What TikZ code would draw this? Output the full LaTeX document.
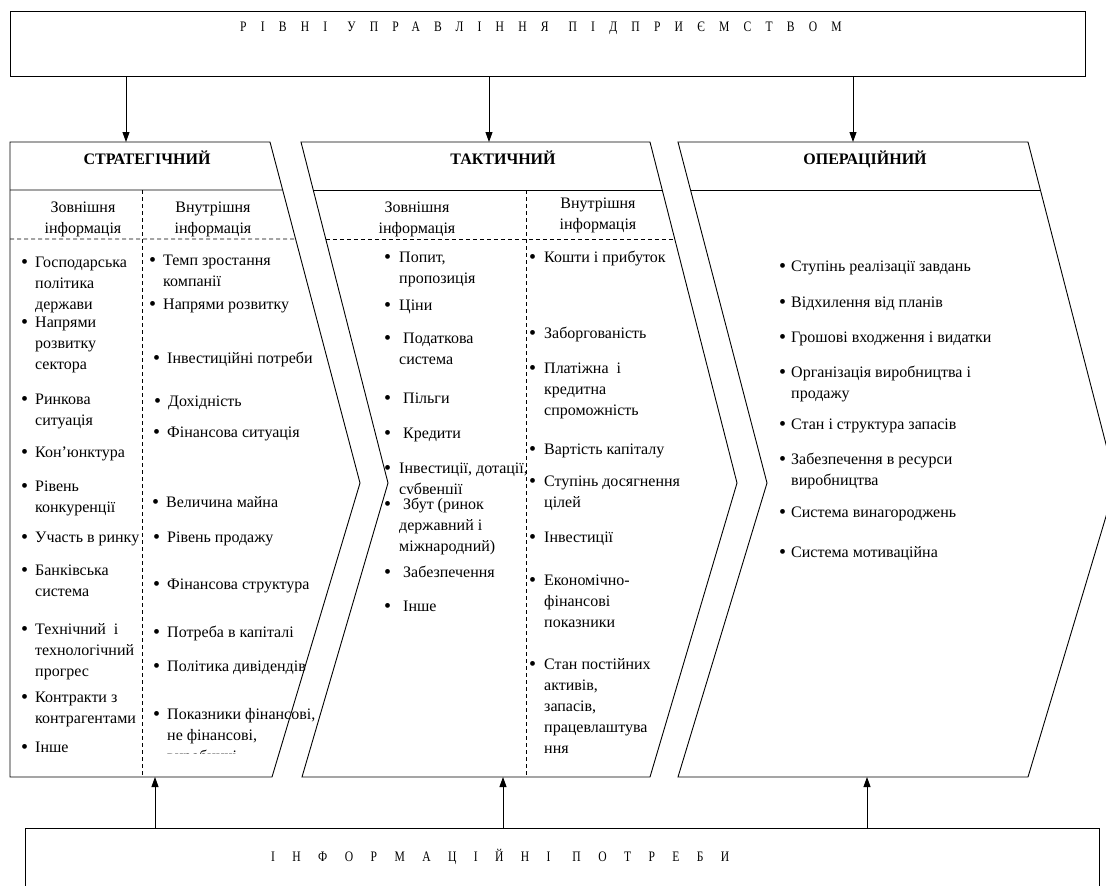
\documentclass[tikz,border=0pt]{standalone}
\usepackage{fontspec}
\setmainfont{Liberation Serif}
\usetikzlibrary{arrows.meta,calc}
\newcommand\bl[2][7]{\llap{\raisebox{-1.4pt}{\scalebox{1.25}{\textbullet}}\hspace{#1pt}}\begin{tabular}[t]{@{}l@{}}#2\end{tabular}}
\newcommand\sh[1]{\begin{tabular}[t]{@{}c@{}}#1\end{tabular}}
\tikzset{
  box/.style={draw, line width=1pt, inner sep=0pt, outer sep=0pt},
  chev/.style={draw, line width=0.9pt, line join=miter},
  hline/.style={line width=0.9pt},
  sep/.style={line width=0.7pt, dash pattern=on 4pt off 3pt},
  arr/.style={line width=0.9pt, -{Triangle[length=10pt,width=7pt]}},
  itm/.style={anchor=base west, inner sep=0pt, font=\fontsize{16}{21}\selectfont},
  hd/.style={anchor=base, inner sep=0pt, font=\bfseries\fontsize{16}{21}\selectfont},
  sub/.style={anchor=base, inner sep=0pt, font=\fontsize{16}{21}\selectfont},
  ttl/.style={anchor=west, inner sep=0pt, font=\fontsize{14.5}{16}\selectfont}
}
\begin{document}
\begin{tikzpicture}[x=1pt,y=-1pt]
\useasboundingbox (0,0) rectangle (1106,886);
\clip (0,0) rectangle (1106,886);
% top and bottom boxes
\node[box, minimum width=1075pt, minimum height=65pt, anchor=north west] (top) at (10,11) {};
\node[ttl] (toptxt) at (240,28) {\addfontfeatures{FakeStretch=0.8,LetterSpace=98}РІВНІ\hspace{20pt}УПРАВЛІННЯ\hspace{20pt}ПІДПРИЄМСТВОМ};
\node[box, minimum width=1074pt, minimum height=100pt, anchor=north west] (bot) at (25,828) {};
\node[ttl] (bottxt) at (271,857) {\addfontfeatures{FakeStretch=0.8,LetterSpace=120}ІНФОРМАЦІЙНІ\hspace{22pt}ПОТРЕБИ};
% column geometry
\coordinate (c1tl) at (10,142); \coordinate (c1tr) at (270,142); \coordinate (c1t) at (360,483);
\coordinate (c1br) at (272,777); \coordinate (c1bl) at (10,777);
\coordinate (c2tl) at (301,142); \coordinate (c2tr) at (650,142); \coordinate (c2t) at (737,483);
\coordinate (c2br) at (650,777); \coordinate (c2bl) at (302,777); \coordinate (c2n) at (388,483);
\coordinate (c3tl) at (678,142); \coordinate (c3tr) at (1028,142); \coordinate (c3t) at (1116,483);
\coordinate (c3br) at (1028,777); \coordinate (c3bl) at (678,777); \coordinate (c3n) at (767,483);
\draw[chev] (c1tl) -- (c1tr) -- (c1t) -- (c1br) -- (c1bl) -- cycle;
\draw[chev] (c2tl) -- (c2tr) -- (c2t) -- (c2br) -- (c2bl) -- (c2n) -- cycle;
\draw[chev] (c3tl) -- (c3tr) -- (c3t) -- (c3br) -- (c3bl) -- (c3n) -- cycle;
% header lines
\draw[hline] (10,190) -- ($(c1tr)!0.1408!(c1t)$);
\draw[hline] ($(c2tl)!0.1408!(c2n)$) -- ($(c2tr)!0.1408!(c2t)$);
\draw[hline] ($(c3tl)!0.1408!(c3n)$) -- ($(c3tr)!0.1408!(c3t)$);
% dashed separators
\draw[sep] (10,239) -- ($(c1tr)!0.2845!(c1t)$);
\draw[sep] (142,190) -- (142,777);
\draw[sep] ($(c2tl)!0.2845!(c2n)$) -- ($(c2tr)!0.2845!(c2t)$);
\draw[sep] (526,190) -- (526,777);
% arrows
\coordinate (a1) at (126,142); \coordinate (a2) at (489,142); \coordinate (a3) at (853,142);
\draw[arr] (top.south -| a1) -- (a1);
\draw[arr] (top.south -| a2) -- (a2);
\draw[arr] (top.south -| a3) -- (a3);
\coordinate (b1) at (155,777); \coordinate (b2) at (503,777); \coordinate (b3) at (867,777);
\draw[arr] (bot.north -| b1) -- (b1);
\draw[arr] (bot.north -| b2) -- (b2);
\draw[arr] (bot.north -| b3) -- (b3);
% headers
\node[hd] (h1) at (147,164.5) {СТРАТЕГІЧНИЙ};
\node[hd] (h2) at (503,164.5) {ТАКТИЧНИЙ};
\node[hd] (h3) at (865,164.5) {ОПЕРАЦІЙНИЙ};
\node[sub] (sh1) at (83,212.5) {\sh{Зовнішня\\інформація}};
\node[sub] (sh2) at (213,212.5) {\sh{Внутрішня\\інформація}};
\node[sub] (sh3) at (417,212.5) {\sh{Зовнішня\\інформація}};
\node[sub] (sh4) at (598,208.5) {\sh{Внутрішня\\інформація}};
% column 1, external
\node[itm] (s1) at (35,267.5) {\bl{Господарська\\політика\\держави}};
\node[itm] (s2) at (35,327.5) {\bl{Напрями\\розвитку\\сектора}};
\node[itm] (s3) at (35,404.5) {\bl{Ринкова\\ситуація}};
\node[itm] (s4) at (35,457.5) {\bl{Кон’юнктура}};
\node[itm] (s5) at (35,491.5) {\bl{Рівень\\конкуренції}};
\node[itm] (s6) at (35,542.5) {\bl{Участь в ринку}};
\node[itm] (s7) at (35,575.5) {\bl{Банківська\\система}};
\node[itm] (s8) at (35,634.5) {\bl{Технічний\ \ і\\технологічний\\прогрес}};
\node[itm] (s9) at (35,702.5) {\bl{Контракти з\\контрагентами}};
\node[itm] (s10) at (35,752.5) {\bl{Інше}};
% column 1, internal
\node[itm] (r1) at (163,265.5) {\bl{Темп зростання\\компанії}};
\node[itm] (r2) at (163,309.5) {\bl{Напрями розвитку}};
\node[itm] (r3) at (167,363.5) {\bl{Інвестиційні потреби}};
\node[itm] (r4) at (168,406.5) {\bl{Дохідність}};
\node[itm] (r5) at (167,437.5) {\bl{Фінансова ситуація}};
\node[itm] (r6) at (166,507.5) {\bl{Величина майна}};
\node[itm] (r7) at (167,542.5) {\bl{Рівень продажу}};
\node[itm] (r8) at (167,589.5) {\bl{Фінансова структура}};
\node[itm] (r9) at (167,637.5) {\bl{Потреба в капіталі}};
\node[itm] (r10) at (167,671.5) {\bl{Політика дивідендів}};
\begin{scope}
\clip (140,690) rectangle (330,753);
\node[itm] (r11) at (167,719.5) {\bl{Показники фінансові,\\не фінансові,\\виробничі}};
\end{scope}
% column 2, external
\node[itm] (t1) at (399,262.5) {\bl[8]{Попит,\\пропозиція}};
\node[itm] (t2) at (399,310.5) {\bl[8]{Ціни}};
\node[itm] (t3) at (399,343.5) {\bl[8]{\hspace{4pt}Податкова\\система}};
\node[itm] (t4) at (399,403.5) {\bl[8]{\hspace{4pt}Пільги}};
\node[itm] (t5) at (399,438.5) {\bl[8]{\hspace{4pt}Кредити}};
\begin{scope}
\clip (370,450) rectangle (560,493);
\node[itm] (t6) at (399,473.5) {\bl[8]{Інвестиції, дотації,\\субвенції}};
\end{scope}
\node[itm] (t7) at (399,509.5) {\bl[8]{\hspace{4pt}Збут (ринок\\державний і\\міжнародний)}};
\node[itm] (t8) at (399,577.5) {\bl[8]{\hspace{4pt}Забезпечення}};
\node[itm] (t9) at (399,611.5) {\bl[8]{\hspace{4pt}Інше}};
% column 2, internal
\node[itm] (u1) at (544,262.5) {\bl[8]{Кошти і прибуток}};
\node[itm] (u2) at (544,338.5) {\bl[8]{Заборгованість}};
\node[itm] (u3) at (544,373.5) {\bl[8]{Платіжна\ \ і\\кредитна\\спроможність}};
\node[itm] (u4) at (544,454.5) {\bl[8]{Вартість капіталу}};
\node[itm] (u5) at (544,486.5) {\bl[8]{Ступінь досягнення\\цілей}};
\node[itm] (u6) at (544,542.5) {\bl[8]{Інвестиції}};
\node[itm] (u7) at (544,585.5) {\bl[8]{Економічно-\\фінансові\\показники}};
\node[itm] (u8) at (544,669.5) {\bl[8]{Стан постійних\\активів,\\запасів,\\працевлаштува\\ння}};
% column 3
\node[itm] (o1) at (791,271.5) {\bl[5]{Ступінь реалізації завдань}};
\node[itm] (o2) at (791,307.5) {\bl[5]{Відхилення від планів}};
\node[itm] (o3) at (791,342.5) {\bl[5]{Грошові входження і видатки}};
\node[itm] (o4) at (791,377.5) {\bl[5]{Організація виробництва і\\продажу}};
\node[itm] (o5) at (791,429.5) {\bl[5]{Стан і структура запасів}};
\node[itm] (o6) at (791,464.5) {\bl[5]{Забезпечення в ресурси\\виробництва}};
\node[itm] (o7) at (791,517.5) {\bl[5]{Система винагороджень}};
\node[itm] (o8) at (791,557.5) {\bl[5]{Система мотиваційна}};
\end{tikzpicture}
\end{document}
